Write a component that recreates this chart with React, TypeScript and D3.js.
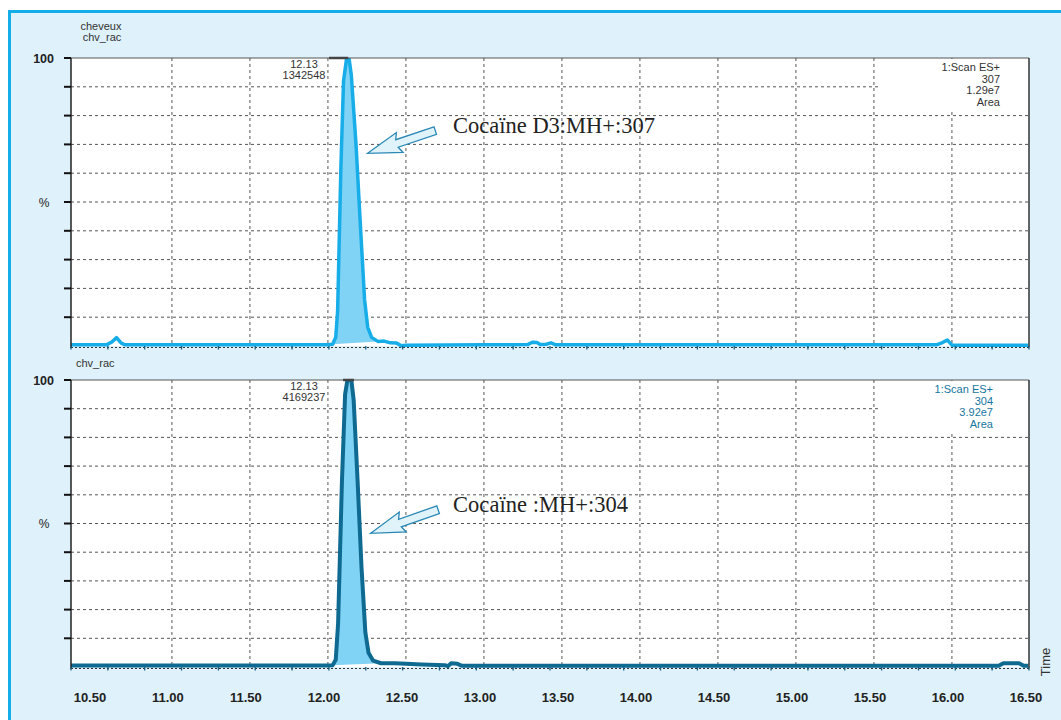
import React from "react";
import * as d3 from "d3";

const W = 1061;
const H = 720;

// retention time axis (minutes)
const xDomain = [10.353, 16.494];
const xTickValues = [10.5, 11, 11.5, 12, 12.5, 13, 13.5, 14, 14.5, 15, 15.5, 16, 16.5];
const xTickLabels = ["10.50", "11.00", "11.50", "12.00", "12.50", "13.00", "13.50", "14.00", "14.50", "15.00", "15.50", "16.00", "16.50"];
const xGridValues = [11, 11.5, 12, 12.5, 13, 13.5, 14, 14.5, 15, 15.5, 16];
const yGridValues = [10, 20, 30, 40, 50, 60, 70, 80, 90];

// top trace : cocaïne D3, m/z 307
const d3Time = [10.35, 10.58, 10.615, 10.645, 10.675, 10.7, 11.5, 12.0, 12.03, 12.05, 12.062, 12.083, 12.1, 12.12, 12.135, 12.15, 12.18, 12.21, 12.235, 12.255, 12.28, 12.32, 12.36, 12.4, 12.44, 12.47, 12.5, 13.0, 13.28, 13.31, 13.34, 13.36, 13.4, 13.43, 13.46, 14.5, 15.9, 15.94, 15.97, 16.0, 16.49];
const d3Pct = [0.4, 0.4, 1.4, 2.9, 1.0, 0.4, 0.4, 0.4, 0.6, 3, 12, 62, 92, 100, 100, 94, 70, 40, 16, 6.5, 3, 1.6, 1.7, 1.1, 1.0, 0.1, 0.3, 0.4, 0.5, 1.3, 1.2, 0.5, 0.6, 1.1, 0.4, 0.4, 0.4, 1.2, 2.1, 0.3, 0.3];
const d3Integration = [12.03, 12.32];

// bottom trace : cocaïne, m/z 304
const cocTime = [10.35, 11.5, 12.0, 12.03, 12.05, 12.065, 12.09, 12.11, 12.125, 12.15, 12.165, 12.19, 12.215, 12.24, 12.26, 12.29, 12.34, 12.43, 12.5, 12.6, 12.75, 12.77, 12.79, 12.83, 12.86, 14.0, 16.3, 16.33, 16.43, 16.46, 16.49];
const cocPct = [0.5, 0.5, 0.5, 0.6, 2.5, 15, 65, 95, 100, 100, 93, 65, 35, 12, 5, 2.2, 1.3, 1.3, 1.1, 0.9, 0.6, 0.3, 1.3, 1.1, 0.4, 0.4, 0.4, 1.3, 1.3, 0.4, 0.4];
const cocIntegration = [12.03, 12.34];

const sans = "'Liberation Sans', Arial, Helvetica, sans-serif";
const serif = "'Liberation Serif', 'Times New Roman', serif";

const x = d3.scaleLinear().domain(xDomain).range([71, 1029]);
const minorTicks = d3.range(27).map((k) => xDomain[0] + (k * (xDomain[1] - xDomain[0])) / 26);

function arrowPath(t1: number[], t2: number[]) {
  // t1 = tail centre, t2 = tip (pixels)
  const [x1, y1] = t1;
  const [x2, y2] = t2;
  const dx = x2 - x1, dy = y2 - y1;
  const L = Math.hypot(dx, dy);
  const ux = dx / L, uy = dy / L, nx = -uy, ny = ux;
  const sh = 4, hh = 10.5, hl = 31;
  const bx = x2 - ux * hl, by = y2 - uy * hl;
  const pts = [
    [x1 + nx * sh, y1 + ny * sh],
    [bx + nx * sh, by + ny * sh],
    [bx + nx * hh - ux * 3, by + ny * hh - uy * 3],
    [x2, y2],
    [bx - nx * hh - ux * 3, by - ny * hh - uy * 3],
    [bx - nx * sh, by - ny * sh],
    [x1 - nx * sh, y1 - ny * sh],
  ];
  return "M" + pts.map((p) => p[0].toFixed(1) + "," + p[1].toFixed(1)).join("L") + "Z";
}

type PanelProps = {
  top: number;
  bottom: number;
  times: number[];
  pcts: number[];
  integration: number[];
  color: string;
  width: number;
  legend: string[];
  legendColor: string;
  legendRight: number;
  peakTime: string;
  peakArea: string;
  markBar: number[];
  arrowTail: number[];
  arrowTip: number[];
  compound: string;
  compoundAt: number[];
  compoundLen: number;
  id: string;
};

function Panel(p: PanelProps) {
  const y = d3.scaleLinear().domain([0, 100]).range([p.bottom, p.top]);
  const pts: [number, number][] = p.times.map((t, i) => [t, p.pcts[i]]);
  const line = d3
    .line<[number, number]>()
    .x((d) => x(d[0]))
    .y((d) => y(d[1]));
  const inPeak = pts.filter((d) => d[0] >= p.integration[0] && d[0] <= p.integration[1]);
  const fillPath = line(inPeak) + "Z";
  const left = x.range()[0];
  const right = x.range()[1];
  return (
    <g>
      <defs>
        <clipPath id={"clip" + p.id}>
          <rect x={left} y={p.top} width={right - left} height={p.bottom - p.top + 4} />
        </clipPath>
      </defs>
      <rect x={left} y={p.top} width={right - left} height={p.bottom - p.top} fill="#fff" />
      {yGridValues.map((v) => (
        <line key={"h" + v} x1={left} x2={right} y1={y(v)} y2={y(v)} stroke="#555" strokeWidth={1} strokeDasharray="3,3" />
      ))}
      {xGridValues.map((v) => (
        <line key={"v" + v} x1={x(v)} x2={x(v)} y1={p.top} y2={p.bottom} stroke="#555" strokeWidth={1} strokeDasharray="3,3" />
      ))}
      <line x1={left} x2={right} y1={p.bottom + 1.5} y2={p.bottom + 1.5} stroke="#333" strokeWidth={1} strokeDasharray="2,2" />
      {/* legend box */}
      <rect x={878} y={p.top + 1} width={right - 879} height={p.top === 58 ? 53 : 52} fill="#fff" />
      {p.legend.map((s, i) => (
        <text key={s} x={p.legendRight} y={p.top + 13 + i * 11.7} textAnchor="end" fontFamily={sans} fontSize={11} fill={p.legendColor}>
          {s}
        </text>
      ))}
      <g clipPath={`url(#clip${p.id})`}>
        <path d={fillPath} fill="#80d3f4" stroke="none" />
        <path d={line(pts) || ""} fill="none" stroke={p.color} strokeWidth={p.width} strokeLinejoin="round" />
      </g>
      {/* frame */}
      <line x1={left} x2={right} y1={p.top} y2={p.top} stroke="#555" strokeWidth={1} />
      <line x1={right} x2={right} y1={p.top} y2={p.bottom + 1} stroke="#333" strokeWidth={1.5} />
      <line x1={left} x2={left} y1={p.top} y2={p.bottom + 2} stroke="#222" strokeWidth={1.5} />
      {[...yGridValues, 100].map((v) => (
        <line key={"t" + v} x1={left - 7} x2={left} y1={y(v)} y2={y(v)} stroke="#111" strokeWidth={2} />
      ))}
      {minorTicks.map((t, i) => (
        <line key={"m" + i} x1={x(t)} x2={x(t)} y1={p.bottom} y2={p.bottom + 3.5} stroke="#1c5f80" strokeWidth={1.3} />
      ))}
      <text x={54} y={p.top + 4.5} textAnchor="end" fontFamily={sans} fontWeight="bold" fontSize={12.5} fill="#222">
        100
      </text>
      <text x={44} y={y(50) + 4.5} textAnchor="middle" fontFamily={sans} fontSize={12} fill="#222">
        %
      </text>
      {/* peak marker */}
      <line x1={x(p.markBar[0])} x2={x(p.markBar[1])} y1={p.top} y2={p.top} stroke="#444" strokeWidth={2.5} />
      <text x={304} y={p.top + 10} textAnchor="middle" fontFamily={sans} fontSize={11} fill="#333">
        {p.peakTime}
      </text>
      <text x={304} y={p.top + 21} textAnchor="middle" fontFamily={sans} fontSize={11} fill="#333">
        {p.peakArea}
      </text>
      <path
        d={arrowPath([x(p.arrowTail[0]), y(p.arrowTail[1])], [x(p.arrowTip[0]), y(p.arrowTip[1])])}
        fill="#e0f3fb"
        stroke="#2a88b5"
        strokeWidth={1.3}
        strokeLinejoin="miter"
      />
      <text
        x={x(p.compoundAt[0])}
        y={y(p.compoundAt[1])}
        fontFamily={serif}
        fontSize={22.5}
        fill="#222"
        textLength={p.compoundLen}
        lengthAdjust="spacing"
      >
        {p.compound}
      </text>
    </g>
  );
}

export default function App() {
  return (
    <svg width={W} height={H} style={{ position: "absolute", left: 0, top: 0, background: "#fff" }}>
      <rect x={9.5} y={11.5} width={1120} height={800} fill="#dff1fa" stroke="#13aee8" strokeWidth={3} />
      <text x={101} y={29.5} textAnchor="middle" fontFamily={sans} fontSize={11} fill="#333">
        cheveux
      </text>
      <text x={102} y={41} textAnchor="middle" fontFamily={sans} fontSize={11} fill="#333">
        chv_rac
      </text>
      <text x={76} y={367} fontFamily={sans} fontSize={11} fill="#333">
        chv_rac
      </text>
      <Panel
        id="a"
        top={58}
        bottom={346}
        times={d3Time}
        pcts={d3Pct}
        integration={d3Integration}
        color="#17ade8"
        width={3.5}
        legend={["1:Scan ES+", "307", "1.29e7", "Area"]}
        legendColor="#333"
        legendRight={1000}
        peakTime="12.13"
        peakArea="1342548"
        markBar={[12.007, 12.13]}
        arrowTail={[12.688, 74.8]}
        arrowTip={[12.254, 66.9]}
        compound="Cocaïne D3:MH+:307"
        compoundAt={[12.802, 73.85]}
        compoundLen={202}
      />
      <Panel
        id="b"
        top={380}
        bottom={667}
        times={cocTime}
        pcts={cocPct}
        integration={cocIntegration}
        color="#0f6a92"
        width={4}
        legend={["1:Scan ES+", "304", "3.92e7", "Area"]}
        legendColor="#17759e"
        legendRight={993}
        peakTime="12.13"
        peakArea="4169237"
        markBar={[12.097, 12.167]}
        arrowTail={[12.706, 54.8]}
        arrowTip={[12.274, 46.6]}
        compound="Cocaïne :MH+:304"
        compoundAt={[12.802, 53.9]}
        compoundLen={175}
      />
      {xTickValues.map((v, i) => (
        <text key={v} x={x(v) - 4} y={701.5} textAnchor="middle" fontFamily={sans} fontWeight="bold" fontSize={13} fill="#222">
          {xTickLabels[i]}
        </text>
      ))}
      <text
        transform="translate(1050,662) rotate(-90)"
        textAnchor="middle"
        fontFamily={sans}
        fontSize={13}
        fill="#333"
      >
        Time
      </text>
    </svg>
  );
}
